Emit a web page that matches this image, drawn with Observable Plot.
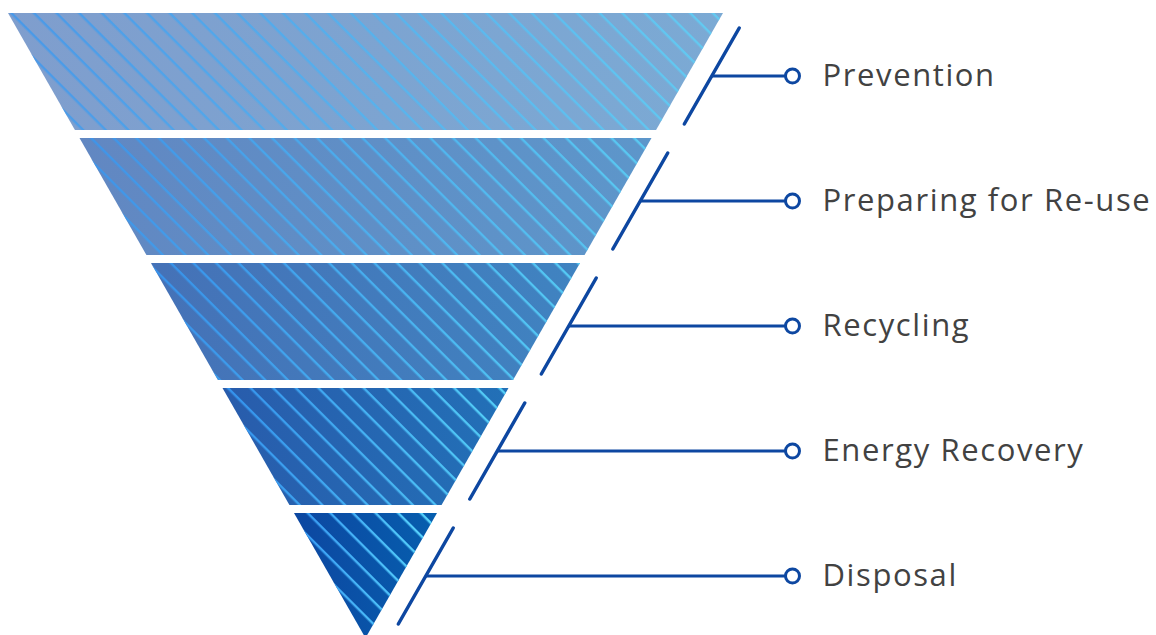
<!DOCTYPE html>
<html>
<head>
<meta charset="utf-8">
<script src="https://cdn.jsdelivr.net/npm/d3@7"></script>
<script src="https://cdn.jsdelivr.net/npm/@observablehq/plot@0.6"></script>
<style>
  html, body { margin: 0; padding: 0; background: #ffffff; }
  #chart svg { display: block; }
</style>
</head>
<body>
<div id="chart"></div>
<script>
// ---- data ----
const categories = ["Prevention", "Preparing for Re-use", "Recycling", "Energy Recovery", "Disposal"];
const tierTop = [0, 1, 2, 3, 4];                    // tier start (levels from top)
const tierBottom = [0.936, 1.936, 2.936, 3.936, 5]; // tier end (gap between tiers)
const tierOpacity = [0.53, 0.65, 0.77, 0.885, 1.0];
const stripeOpacity = [0.72, 0.78, 0.85, 0.92, 1.0];

// helper: half-width of the inverted pyramid at a given level (apex at level 5)
const half = y => 5 - y;
const lineOffset = 0.336;   // gap between funnel edge and the slanted marker
const markerHalf = 0.384;   // half length (in levels) of the slanted marker
const dotX = 5.965;
const labelX = 6.385;

const bandRows = categories.flatMap((c, i) => [
  {cat: c, y: tierTop[i], x1: -half(tierTop[i]), x2: half(tierTop[i]), a: tierOpacity[i], s: stripeOpacity[i]},
  {cat: c, y: tierBottom[i], x1: -half(tierBottom[i]), x2: half(tierBottom[i]), a: tierOpacity[i], s: stripeOpacity[i]}
]);
const labels = categories.map((c, i) => ({cat: c, c: tierTop[i] + 0.5}));

const svg = Plot.plot({
  width: 1156,
  height: 635,
  margin: 0,
  style: {background: "#ffffff", fontFamily: "'Open Sans', sans-serif", letterSpacing: "1.6px"},
  x: {domain: [-5, 5], range: [8, 723], axis: null},
  y: {domain: [0, 5], range: [13, 638], axis: null},
  marks: [
    Plot.areaX(bandRows, {y: "y", x1: "x1", x2: "x2", z: "cat", fill: "#0d47a1", fillOpacity: "a"}),
    Plot.areaX(bandRows, {y: "y", x1: "x1", x2: "x2", z: "cat", fill: "#2a8cf0", fillOpacity: "s"}),
    Plot.link(labels, {
      x1: d => half(d.c - markerHalf) + lineOffset, y1: d => d.c - markerHalf,
      x2: d => half(d.c + markerHalf) + lineOffset, y2: d => d.c + markerHalf,
      stroke: "#0d47a1", strokeWidth: 3.5, strokeLinecap: "round"
    }),
    Plot.link(labels, {
      x1: d => half(d.c) + lineOffset, y1: "c",
      x2: dotX, y2: "c",
      stroke: "#0d47a1", strokeWidth: 3
    }),
    Plot.dot(labels, {x: dotX, y: "c", r: 7, fill: "#ffffff", stroke: "#0d47a1", strokeWidth: 3}),
    Plot.text(labels, {x: labelX, y: "c", text: "cat", textAnchor: "start", fontSize: 31, fill: "#424242"})
  ]
});

// ---- decorative definitions (gradients + stripe mask) ----
const root = d3.select(svg);
const defs = root.insert("defs", ":first-child");
const g1 = defs.append("linearGradient").attr("id", "bandGrad").attr("x1", "0").attr("x2", "1").attr("y1", "0").attr("y2", "0");
g1.append("stop").attr("offset", "0").attr("stop-color", "#0d47a1");
g1.append("stop").attr("offset", "1").attr("stop-color", "#065eae");
const g2 = defs.append("linearGradient").attr("id", "stripeGrad").attr("x1", "0").attr("x2", "1").attr("y1", "0").attr("y2", "0");
g2.append("stop").attr("offset", "0").attr("stop-color", "#3596f2");
g2.append("stop").attr("offset", "1").attr("stop-color", "#5ad8fd");
const pat = defs.append("pattern").attr("id", "stripePat").attr("patternUnits", "userSpaceOnUse")
  .attr("width", 16).attr("height", 16).attr("patternTransform", "rotate(45)");
pat.append("rect").attr("x", 0).attr("y", 0).attr("width", 16).attr("height", 2.4).attr("fill", "#ffffff");
const mask = defs.append("mask").attr("id", "stripeMask").attr("maskUnits", "userSpaceOnUse")
  .attr("x", 0).attr("y", 0).attr("width", 1156).attr("height", 635);
mask.append("rect").attr("x", 0).attr("y", 0).attr("width", 1156).attr("height", 635).attr("fill", "url(#stripePat)");

const areaGroups = svg.querySelectorAll('g[aria-label="area"]');
const setFill = (g, url) => {
  g.setAttribute("fill", url);
  g.querySelectorAll("path").forEach(p => { if (p.getAttribute("fill")) p.setAttribute("fill", url); });
};
if (areaGroups[0]) setFill(areaGroups[0], "url(#bandGrad)");
if (areaGroups[1]) { setFill(areaGroups[1], "url(#stripeGrad)"); areaGroups[1].setAttribute("mask", "url(#stripeMask)"); }

document.getElementById("chart").appendChild(svg);
</script>
</body>
</html>
